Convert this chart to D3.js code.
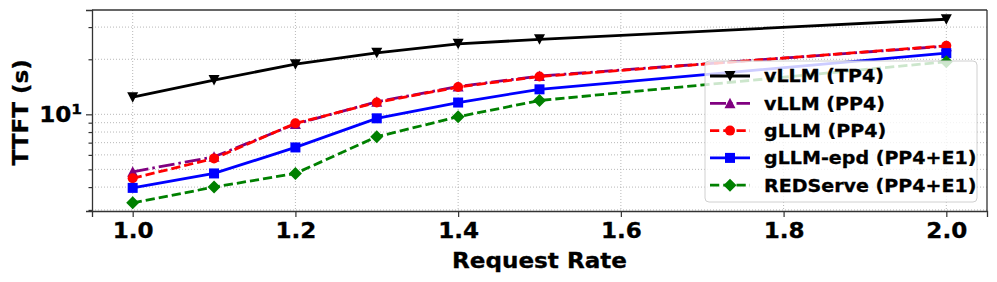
<!DOCTYPE html>
<html>
<head>
<meta charset="utf-8">
<script src="https://cdn.jsdelivr.net/npm/d3@7"></script>
<style>
  body { margin: 0; background: #fff; }
  text { font-family: "DejaVu Sans", sans-serif; font-weight: bold; stroke: #000; stroke-width: 0.3px; }
</style>
</head>
<body>
<script>
// request rates on the x axis
var rates = [1.0, 1.1, 1.2, 1.3, 1.4, 1.5, 2.0];

// TTFT (s) per system
var vllmTP4   = [12.4, 15.4, 18.8, 21.7, 24.3, 25.7, 33.1];
var vllmPP4   = [4.85, 5.86, 8.85, 11.7, 14.2, 16.2, 23.6];
var gllmPP4   = [4.47, 5.74, 8.93, 11.6, 14.1, 16.1, 23.7];
var gllmEpd   = [3.96, 4.75, 6.59, 9.51, 11.6, 13.7, 21.6];
var redServe  = [3.28, 4.00, 4.75, 7.54, 9.70, 11.9, 19.4];

var xTicks = [1.0, 1.2, 1.4, 1.6, 1.8, 2.0];
var yMinor = [3, 4, 5, 6, 7, 8, 9, 20, 30];

var series = [
  {name: "vLLM (TP4)", values: vllmTP4, color: "black", dash: null, marker: "tdown"},
  {name: "vLLM (PP4)", values: vllmPP4, color: "purple", dash: "16,4,2.5,4", marker: "tup"},
  {name: "gLLM (PP4)", values: gllmPP4, color: "red", dash: "9.25,4", marker: "circle"},
  {name: "gLLM-epd (PP4+E1)", values: gllmEpd, color: "blue", dash: null, marker: "square"},
  {name: "REDServe (PP4+E1)", values: redServe, color: "green", dash: "9.25,4", marker: "diamond"}
];

var W = 997, H = 282;
var m = {top: 10, right: 10, bottom: 71, left: 92};
var w = W - m.left - m.right, h = H - m.top - m.bottom;
var SX = "scale(1.1,1)"; // text in the reference runs a bit wide

var svg = d3.select("body").append("svg").attr("width", W).attr("height", H);
var g = svg.append("g").attr("transform", "translate(" + m.left + "," + m.top + ")");

var x = d3.scaleLinear().domain([0.95, 2.05]).range([0, w]);
var y = d3.scaleLog().domain([2.96, 37.2]).range([h, 0]);

// grid
var grid = g.append("g").attr("stroke", "#b0b0b0").attr("stroke-width", 0.9).attr("stroke-dasharray", "1,2");
grid.selectAll(".gx").data(xTicks).enter().append("line")
  .attr("x1", d => x(d)).attr("x2", d => x(d)).attr("y1", 0).attr("y2", h);
grid.selectAll(".gy").data(yMinor.concat([10])).enter().append("line")
  .attr("x1", 0).attr("x2", w).attr("y1", d => y(d)).attr("y2", d => y(d));

// axes
var xAxis = g.append("g").attr("transform", "translate(0," + h + ")")
  .call(d3.axisBottom(x).tickValues(xTicks).tickFormat(d3.format(".1f")).tickSize(6).tickPadding(6));
xAxis.selectAll("text").attr("font-size", 21).attr("fill", "#000").attr("transform", SX);

g.append("g").call(d3.axisLeft(y).tickValues([10]).tickFormat("").tickSize(6));
g.append("g").call(d3.axisLeft(y).tickValues(yMinor).tickFormat("").tickSize(3.5))
  .select(".domain").remove();

var lbl = g.append("text").attr("transform", "translate(-10," + y(10) + ") " + SX)
  .attr("dy", "0.36em").attr("text-anchor", "end").attr("font-size", 21);
lbl.append("tspan").text("10");
lbl.append("tspan").attr("font-size", 14).attr("dy", "-0.55em").text("1");

g.selectAll(".domain").attr("stroke", "#333").attr("stroke-width", 1.3);
g.selectAll(".tick line").attr("stroke", "#333").attr("stroke-width", 1.2);

// frame top/right
g.append("line").attr("x1", 0).attr("x2", w).attr("y1", 0).attr("y2", 0).attr("stroke", "#333").attr("stroke-width", 1.3);
g.append("line").attr("x1", w).attr("x2", w).attr("y1", 0).attr("y2", h).attr("stroke", "#333").attr("stroke-width", 1.3);

// axis labels
svg.append("text").attr("transform", "translate(" + (m.left + w / 2) + ",268) " + SX)
  .attr("text-anchor", "middle").attr("font-size", 21).text("Request Rate");
svg.append("text").attr("transform", "translate(28," + (m.top + y(10) - 2) + ") rotate(-90) " + SX)
  .attr("text-anchor", "middle").attr("font-size", 21).text("TTFT (s)");

function drawMarker(sel, type, color, cx, cy) {
  if (type === "circle") {
    sel.append("circle").attr("cx", cx).attr("cy", cy).attr("r", 5).attr("fill", color);
  } else if (type === "square") {
    sel.append("rect").attr("x", cx - 5).attr("y", cy - 5).attr("width", 10).attr("height", 10).attr("fill", color);
  } else if (type === "diamond") {
    sel.append("path").attr("d", "M" + cx + "," + (cy - 6.5) + "L" + (cx + 6.5) + "," + cy + "L" + cx + "," + (cy + 6.5) + "L" + (cx - 6.5) + "," + cy + "Z").attr("fill", color);
  } else if (type === "tdown") {
    sel.append("path").attr("d", "M" + (cx - 5.5) + "," + (cy - 5) + "L" + (cx + 5.5) + "," + (cy - 5) + "L" + cx + "," + (cy + 5.5) + "Z").attr("fill", color);
  } else if (type === "tup") {
    sel.append("path").attr("d", "M" + (cx - 5.5) + "," + (cy + 5) + "L" + (cx + 5.5) + "," + (cy + 5) + "L" + cx + "," + (cy - 5.5) + "Z").attr("fill", color);
  }
}

var line = d3.line().x(d => x(d[0])).y(d => y(d[1]));

series.forEach(function(s) {
  var pts = rates.map((r, i) => [r, s.values[i]]);
  var sg = g.append("g");
  sg.append("path").datum(pts).attr("d", line).attr("fill", "none")
    .attr("stroke", s.color).attr("stroke-width", 2.8)
    .attr("stroke-dasharray", s.dash);
  pts.forEach(p => drawMarker(sg, s.marker, s.color, x(p[0]), y(p[1])));
});

// legend
var lg = svg.append("g").attr("transform", "translate(705,61)");
lg.append("rect").attr("width", 272).attr("height", 141).attr("rx", 4)
  .attr("fill", "white").attr("fill-opacity", 0.8).attr("stroke", "#d0d0d0");
series.forEach(function(s, i) {
  var cy = 15 + i * 27.3;
  lg.append("line").attr("x1", 5).attr("x2", 45).attr("y1", cy).attr("y2", cy)
    .attr("stroke", s.color).attr("stroke-width", 2.8).attr("stroke-dasharray", s.dash);
  drawMarker(lg, s.marker, s.color, 25, cy);
  lg.append("text").attr("transform", "translate(59," + cy + ") scale(1.06,1)").attr("dy", "0.36em")
    .attr("font-size", 18).text(s.name);
});
</script>
</body>
</html>
